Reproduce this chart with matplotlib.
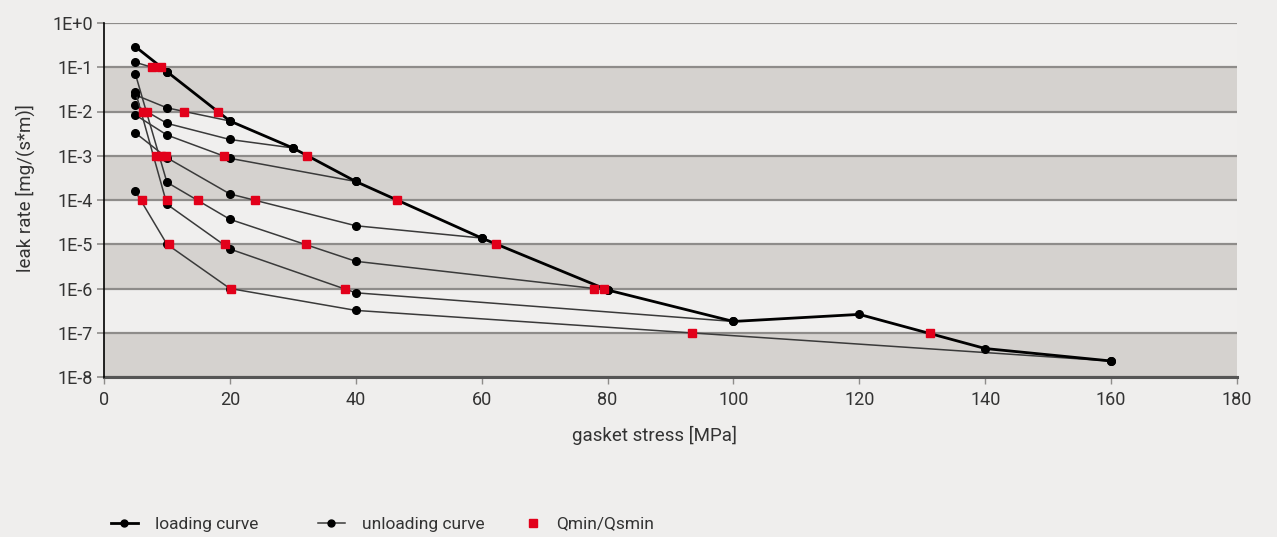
import matplotlib
matplotlib.use("Agg")
import matplotlib.pyplot as plt
from matplotlib.lines import Line2D
from matplotlib import font_manager

# ---------------- data ----------------
loading_x = [5, 10, 20, 30, 40, 60, 80, 100, 120, 140, 160]
loading_y = [0.291, 0.0794, 0.0061, 0.0015, 2.62e-4, 1.38e-5, 9.25e-7, 1.8e-7, 2.6e-7, 4.4e-8, 2.3e-8]

unload_10_x = [10, 5]
unload_10_y = [0.0794, 0.129]
unload_20_x = [20, 10, 5]
unload_20_y = [0.0061, 0.0121, 0.0236]
unload_30_x = [30, 20, 10, 5]
unload_30_y = [0.0015, 0.00233, 0.0054, 0.014]
unload_40_x = [40, 20, 10, 5]
unload_40_y = [2.62e-4, 8.75e-4, 0.00294, 0.00834]
unload_60_x = [60, 40, 20, 10, 5]
unload_60_y = [1.38e-5, 2.62e-5, 1.37e-4, 9.0e-4, 0.00327]
unload_80_x = [80, 40, 20, 10, 5]
unload_80_y = [9.25e-7, 4.12e-6, 3.66e-5, 2.51e-4, 0.0693]
unload_100_x = [100, 40, 20, 10, 5]
unload_100_y = [1.8e-7, 8.0e-7, 7.8e-6, 8.0e-5, 0.028]
unload_160_x = [160, 40, 20, 10, 5]
unload_160_y = [2.3e-8, 3.2e-7, 1.0e-6, 1.0e-5, 1.56e-4]

unloading_curves = [
    (unload_10_x, unload_10_y), (unload_20_x, unload_20_y),
    (unload_30_x, unload_30_y), (unload_40_x, unload_40_y),
    (unload_60_x, unload_60_y), (unload_80_x, unload_80_y),
    (unload_100_x, unload_100_y), (unload_160_x, unload_160_y),
]

qmin_x = [7.7, 9.0,
          6.2, 6.9, 12.7, 18.1,
          8.2, 9.1, 9.9, 19.0, 32.3,
          6.1, 10.0, 15.0, 24.0, 46.6,
          10.3, 19.2, 32.1, 62.3,
          20.1, 38.3, 77.8, 79.4,
          93.4, 131.2]
qmin_y = [1e-1, 1e-1,
          1e-2, 1e-2, 1e-2, 1e-2,
          1e-3, 1e-3, 1e-3, 1e-3, 1e-3,
          1e-4, 1e-4, 1e-4, 1e-4, 1e-4,
          1e-5, 1e-5, 1e-5, 1e-5,
          1e-6, 1e-6, 1e-6, 1e-6,
          1e-7, 1e-7]

y_decades = [1e0, 1e-1, 1e-2, 1e-3, 1e-4, 1e-5, 1e-6, 1e-7, 1e-8]
y_labels = ["1E+0", "1E-1", "1E-2", "1E-3", "1E-4", "1E-5", "1E-6", "1E-7", "1E-8"]
x_ticks = [0, 20, 40, 60, 80, 100, 120, 140, 160, 180]
legend_labels = ["loading curve", "unloading curve", "Qmin/Qsmin"]

# ---------------- style ----------------
names = {f.name for f in font_manager.fontManager.ttflist}
fam = "Liberation Sans Narrow" if "Liberation Sans Narrow" in names else "Roboto"
plt.rcParams["font.family"] = [fam, "DejaVu Sans"]

BG = "#efeeed"
LIGHT = "#f0efee"
DARK = "#d5d2cf"
GRID = "#8e8c8a"
RED = "#e2001a"
TXT = "#333333"

W, H = 1277, 537
fig = plt.figure(figsize=(W / 100, H / 100), dpi=100, facecolor=BG)
ax = fig.add_axes([104 / W, 1 - 377 / H, (1237 - 104) / W, (377 - 23) / H])
ax.set_facecolor(LIGHT)
ax.set_yscale("log")
ax.set_xlim(0, 180)
ax.set_ylim(1e-8, 1e0)

# alternating bands
for i in range(len(y_decades) - 1):
    if i % 2 == 1:
        ax.axhspan(y_decades[i + 1], y_decades[i], color=DARK, lw=0, zorder=0)
for d in y_decades:
    ax.axhline(d, color=GRID, lw=1.6, zorder=1)

# unloading curves
for ux, uy in unloading_curves:
    ax.plot(ux, uy, color="#3a3a3a", lw=1.1, marker="o", ms=5.5,
            mfc="black", mec="black", zorder=3)
# loading curve
ax.plot(loading_x, loading_y, color="black", lw=2.0, marker="o", ms=5.5,
        mfc="black", mec="black", zorder=4)
# Qmin / Qsmin
ax.plot(qmin_x, qmin_y, ls="none", marker="s", ms=6.0, color=RED,
        mec=RED, zorder=5)

ax.set_yticks(y_decades)
ax.set_yticklabels(y_labels)
ax.minorticks_off()
ax.set_xticks(x_ticks)
ax.set_xticklabels([str(v) for v in x_ticks])
ax.tick_params(axis="y", length=5, width=1.2, color=GRID, pad=3,
               labelsize=13, labelcolor=TXT)
ax.tick_params(axis="x", length=5, width=1, color=GRID, pad=5,
               labelsize=13, labelcolor=TXT)

for s in ["top", "right"]:
    ax.spines[s].set_visible(False)
ax.spines["left"].set_color("black")
ax.spines["left"].set_linewidth(1.2)
ax.spines["bottom"].set_color("#555555")
ax.spines["bottom"].set_linewidth(2.2)
ax.spines["left"].set_zorder(6)

ax.set_ylabel("leak rate [mg/(s*m)]", fontsize=13.5, color=TXT)
ax.set_xlabel("gasket stress [MPa]", fontsize=13.5, color=TXT)
ax.yaxis.set_label_coords((25 - 104) / 1133, (377 - 188) / 354)
ax.yaxis.label.set_va("center")
ax.xaxis.set_label_coords((655 - 104) / 1133, (377 - 435) / 354)
ax.xaxis.label.set_va("center")

handles = [
    Line2D([], [], color="black", lw=2.0, marker="o", ms=5),
    Line2D([], [], color="#3a3a3a", lw=1.1, marker="o", ms=5, mfc="black", mec="black"),
    Line2D([], [], ls="none", marker="s", ms=6, color=RED),
]
starts = [111, 318, 520]
pads = [0.98, 0.98, 0.52]
legs = []
for h, lab, x0, p in zip(handles, legend_labels, starts, pads):
    lg = fig.legend([h], [lab], loc="center left",
                    bbox_to_anchor=(x0 / W, 1 - 524 / H), frameon=False,
                    fontsize=12.5, handlelength=1.55, handletextpad=p,
                    borderpad=0, borderaxespad=0, labelcolor=TXT)
    legs.append(lg)

fig.savefig("out.png", dpi=100, facecolor=BG)
